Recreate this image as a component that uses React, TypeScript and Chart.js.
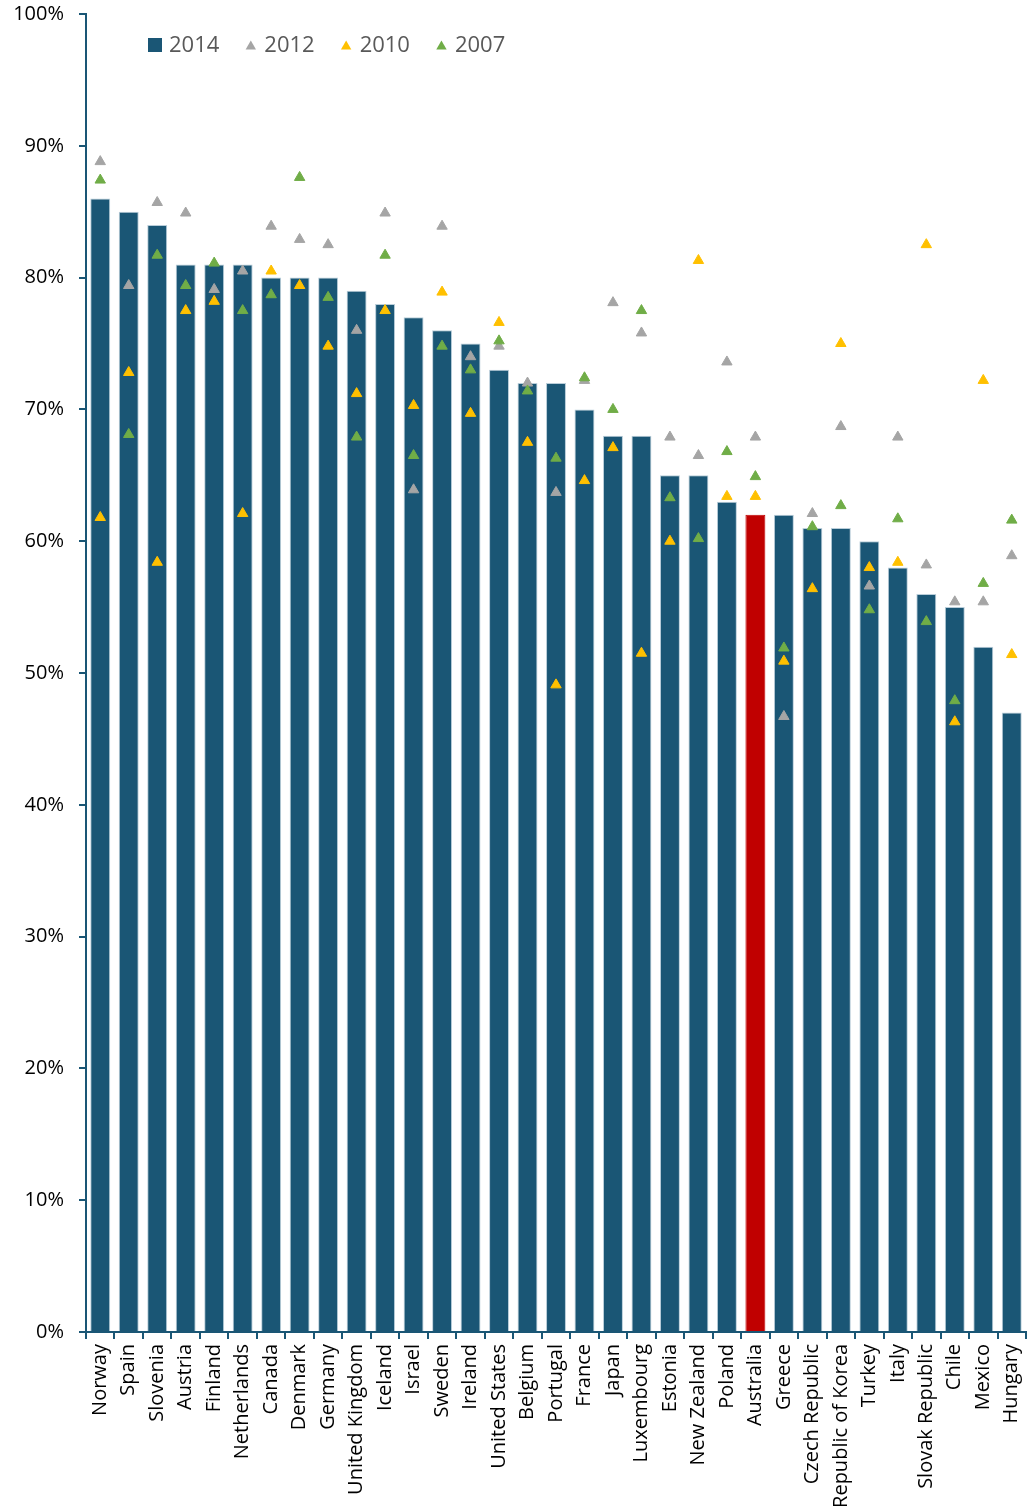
import { useEffect, useRef } from 'react';
import { Chart, registerables } from 'chart.js';

Chart.register(...registerables);

const countries = [
  'Norway', 'Spain', 'Slovenia', 'Austria', 'Finland', 'Netherlands', 'Canada', 'Denmark',
  'Germany', 'United Kingdom', 'Iceland', 'Israel', 'Sweden', 'Ireland', 'United States',
  'Belgium', 'Portugal', 'France', 'Japan', 'Luxembourg', 'Estonia', 'New Zealand', 'Poland',
  'Australia', 'Greece', 'Czech Republic', 'Republic of Korea', 'Turkey', 'Italy',
  'Slovak Republic', 'Chile', 'Mexico', 'Hungary',
];

const values2014 = [
  86, 85, 84, 81, 81, 81, 80, 80, 80, 79, 78, 77, 76, 75, 73, 72, 72, 70, 68, 68, 65, 65, 63,
  62, 62, 61, 61, 60, 58, 56, 55, 52, 47,
];

const values2012 = [
  88.8, 79.4, 85.7, 84.9, 79.1, 80.5, 83.9, 82.9, 82.5, 76.0, 84.9, 63.9, 83.9, 74.0, 74.8,
  72.0, 63.7, 72.2, 78.1, 75.8, 67.9, 66.5, 73.6, 67.9, 46.7, 62.1, 68.7, 56.6, 67.9, 58.2,
  55.4, 55.4, 58.9,
];

const values2010 = [
  61.8, 72.8, 58.4, 77.5, 78.2, 62.1, 80.5, 79.4, 74.8, 71.2, 77.5, 70.3, 78.9, 69.7, 76.6,
  67.5, 49.1, 64.6, 67.1, 51.5, 60.0, 81.3, 63.4, 63.4, 50.9, 56.4, 75.0, 58.0, 58.4, 82.5,
  46.3, 72.2, 51.4,
];

const values2007 = [
  87.4, 68.1, 81.7, 79.4, 81.1, 77.5, 78.7, 87.6, 78.5, 67.9, 81.7, 66.5, 74.8, 73.0, 75.2,
  71.4, 66.3, 72.4, 70.0, 77.5, 63.3, 60.2, 66.8, 64.9, 51.9, 61.1, 62.7, 54.8, 61.7, 53.9,
  47.9, 56.8, 61.6,
];

const seriesLabels = ['2014', '2012', '2010', '2007'];
const highlightCountry = 'Australia';

const BAR = '#1A5675';
const HIGHLIGHT = '#C00000';
const GRAY = '#A5A5A5';
const YELLOW = '#FFC000';
const GREEN = '#70AD47';
const AXIS = '#1A5675';
const FONT = '"Open Sans", "DejaVu Sans", sans-serif';

const legendPlugin = {
  id: 'customLegend',
  afterDraw(chart: any) {
    const ctx = chart.ctx;
    ctx.save();
    ctx.font = `22px ${FONT}`;
    ctx.textBaseline = 'middle';
    ctx.textAlign = 'left';
    let x = 148;
    const cy = 45;
    chart.data.datasets.forEach((ds: any, i: number) => {
      if (i === 0) {
        ctx.fillStyle = BAR;
        ctx.fillRect(x, cy - 7, 14, 14);
        x += 14 + 7;
      } else {
        const r = 6;
        const cx = x + 5.5;
        const ty = cy + 1.5;
        ctx.fillStyle = ds.pointBackgroundColor;
        ctx.beginPath();
        ctx.moveTo(cx, ty - r);
        ctx.lineTo(cx + r * Math.sin((2 * Math.PI) / 3), ty + r / 2);
        ctx.lineTo(cx - r * Math.sin((2 * Math.PI) / 3), ty + r / 2);
        ctx.closePath();
        ctx.fill();
        x += 11 + 8;
      }
      ctx.fillStyle = '#595959';
      ctx.fillText(ds.label, x, cy + 1);
      x += ctx.measureText(ds.label).width + 26;
    });
    ctx.restore();
  },
};

export default function App() {
  const canvasRef = useRef<HTMLCanvasElement | null>(null);

  useEffect(() => {
    document.body.style.margin = '0';
    const canvas = canvasRef.current;
    if (!canvas) return;

    const pointSet = (label: string, data: number[], color: string, order: number) => ({
      type: 'line' as const,
      label,
      data,
      showLine: false,
      pointStyle: 'triangle',
      pointRadius: 6,
      pointHoverRadius: 6,
      pointBackgroundColor: color,
      pointBorderColor: color,
      pointBorderWidth: 1,
      backgroundColor: color,
      borderColor: color,
      order,
    });

    const chart = new Chart(canvas, {
      type: 'bar',
      data: {
        labels: countries,
        datasets: [
          {
            type: 'bar',
            label: seriesLabels[0],
            data: values2014,
            backgroundColor: countries.map((c) => (c === highlightCountry ? HIGHLIGHT : BAR)),
            borderColor: countries.map((c) => (c === highlightCountry ? HIGHLIGHT : '#B9CDD9')),
            borderWidth: 1,
            barPercentage: 0.7,
            categoryPercentage: 1,
            order: 4,
          } as any,
          pointSet(seriesLabels[1], values2012, GRAY, 3) as any,
          pointSet(seriesLabels[2], values2010, YELLOW, 2) as any,
          pointSet(seriesLabels[3], values2007, GREEN, 1) as any,
        ],
      },
      options: {
        responsive: false,
        animation: false,
        layout: { padding: { top: 14, right: 3, left: 0, bottom: 0 } },
        plugins: {
          legend: { display: false },
          tooltip: { enabled: false },
        },
        scales: {
          x: {
            grid: {
              drawOnChartArea: false,
              drawTicks: true,
              tickLength: 7,
              color: AXIS,
              lineWidth: 2,
              offset: true,
            },
            border: { color: AXIS, width: 2 },
            ticks: {
              autoSkip: false,
              maxRotation: 90,
              minRotation: 90,
              padding: 5,
              color: '#000000',
              font: { family: FONT, size: 20 },
            },
            afterFit(scale: any) {
              scale.height = 177;
              scale.paddingLeft = 0;
              scale.paddingRight = 0;
            },
          },
          y: {
            min: 0,
            max: 100,
            grid: {
              drawOnChartArea: false,
              drawTicks: true,
              tickLength: 7,
              color: AXIS,
              lineWidth: 2,
            },
            border: { color: AXIS, width: 2 },
            ticks: {
              stepSize: 10,
              padding: 15,
              color: '#000000',
              font: { family: FONT, size: 20 },
              callback: (v: any) => `${v}%`,
            },
            afterFit(scale: any) {
              scale.width = 86;
              scale.paddingTop = 0;
              scale.paddingBottom = 0;
            },
          },
        },
      },
      plugins: [legendPlugin],
    });

    return () => chart.destroy();
  }, []);

  return (
    <div style={{ width: 1033, height: 1509 }}>
      <canvas ref={canvasRef} width={1033} height={1509} style={{ display: 'block' }} />
    </div>
  );
}
